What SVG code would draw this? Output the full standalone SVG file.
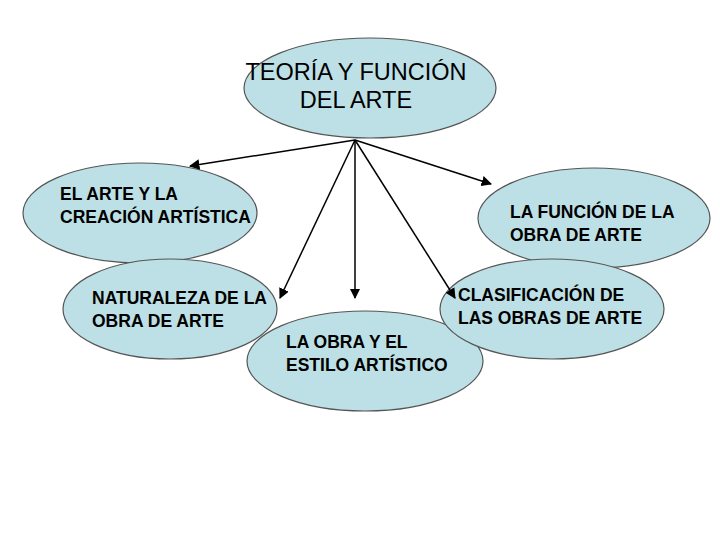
<svg xmlns="http://www.w3.org/2000/svg" width="720" height="540" viewBox="0 0 720 540">
<style>
.n{fill:#bde0e6;stroke:#555;stroke-width:1.2}
.t{font-family:"Liberation Sans",Arial,sans-serif;font-size:17.5px;font-weight:bold;fill:#000}
.h{font-family:"Liberation Sans",Arial,sans-serif;font-size:23.5px;fill:#000}
.c{stroke:#000;stroke-width:1.5;fill:none;marker-end:url(#a)}
</style>
<defs><marker id="a" viewBox="0 0 10 10" refX="9" refY="5" markerWidth="7" markerHeight="7" orient="auto"><path d="M0,0 L10,5 L0,10 z" fill="#000"/></marker></defs>
<rect width="720" height="540" fill="#fff"/>
<g id="top"><ellipse class="n" cx="370" cy="88" rx="126" ry="50"/>
<text class="h" x="356" y="80" text-anchor="middle">TEORÍA Y FUNCIÓN</text><text class="h" x="356" y="108" text-anchor="middle">DEL ARTE</text></g>
<g id="creacion"><ellipse class="n" cx="140" cy="213" rx="117" ry="50"/>
<text class="t" x="60" y="200">EL ARTE Y LA</text><text class="t" x="60" y="223">CREACIÓN ARTÍSTICA</text></g>
<g id="funcion"><ellipse class="n" cx="594" cy="218" rx="116" ry="50"/>
<text class="t" x="510" y="218">LA FUNCIÓN DE LA</text><text class="t" x="510" y="241">OBRA DE ARTE</text></g>
<g id="naturaleza"><ellipse class="n" cx="170" cy="309" rx="107" ry="50"/>
<text class="t" x="92" y="304">NATURALEZA DE LA</text><text class="t" x="92" y="327">OBRA DE ARTE</text></g>
<g id="estilo"><ellipse class="n" cx="365" cy="361" rx="118" ry="50"/>
<text class="t" x="286" y="348">LA OBRA Y EL</text><text class="t" x="286" y="371">ESTILO ARTÍSTICO</text></g>
<g id="clasificacion"><ellipse class="n" cx="552" cy="309" rx="112" ry="50"/>
<text class="t" x="458" y="301">CLASIFICACIÓN DE</text><text class="t" x="458" y="324">LAS OBRAS DE ARTE</text></g>
<g id="connectors">
<line class="c" x1="355" y1="140" x2="190" y2="166"/>
<line class="c" x1="355" y1="140" x2="491" y2="184"/>
<line class="c" x1="355" y1="140" x2="280" y2="298"/>
<line class="c" x1="355" y1="140" x2="355" y2="298"/>
<line class="c" x1="355" y1="140" x2="455" y2="298"/>
</g>
</svg>
